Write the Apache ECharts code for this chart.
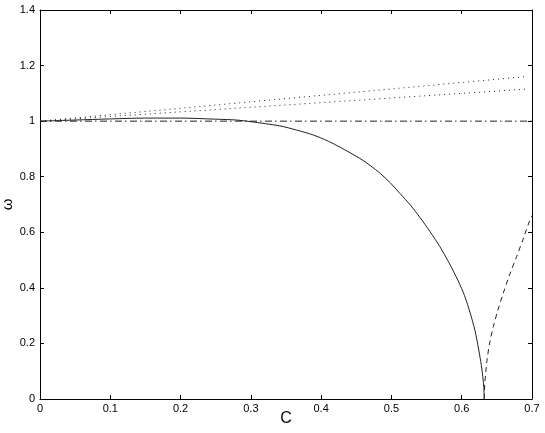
<!DOCTYPE html>
<html>
<head>
<meta charset="utf-8">
<script src="https://cdn.jsdelivr.net/npm/echarts@6/dist/echarts.min.js"></script>
<style>html,body{margin:0;padding:0;background:#fff;}#chart{width:545px;height:433px;}</style>
</head>
<body>
<div id="chart"></div>
<script>
// Solid branch
var solidC = [0, 0.05, 0.1, 0.15, 0.2, 0.25, 0.28, 0.3, 0.341, 0.365, 0.389, 0.41, 0.427, 0.455, 0.47, 0.484, 0.498, 0.512, 0.527, 0.541, 0.555, 0.569, 0.582, 0.595, 0.604, 0.612, 0.619, 0.624, 0.628, 0.630, 0.6315, 0.632];
var solidW = [1.0, 1.004, 1.008, 1.011, 1.011, 1.007, 1.004, 0.998, 0.983, 0.968, 0.950, 0.928, 0.906, 0.866, 0.840, 0.812, 0.779, 0.740, 0.698, 0.652, 0.602, 0.548, 0.490, 0.425, 0.372, 0.310, 0.245, 0.180, 0.120, 0.080, 0.040, 0.0];
// Dashed branch
var dashC = [0.632, 0.6322, 0.6328, 0.634, 0.636, 0.640, 0.645, 0.651, 0.659, 0.668, 0.678, 0.688, 0.697, 0.7];
var dashW = [0.0, 0.025, 0.055, 0.090, 0.140, 0.205, 0.260, 0.316, 0.380, 0.446, 0.512, 0.580, 0.644, 0.660];
// Dash-dot reference line
var refC = [0, 0.7];
var refW = [1, 1];
// Dotted lines
var dotC = [0, 0.69];
var dotUpperW = [1, 1.160];
var dotLowerW = [1, 1.115];
// Axis
var xTicks = {min: 0, max: 0.7, interval: 0.1};
var yTicks = {min: 0, max: 1.4, interval: 0.2};
var xName = 'C';
var yName = 'ω';

function pairs(xs, ys) { return xs.map(function (x, i) { return [x, ys[i]]; }); }

var chart = echarts.init(document.getElementById('chart'), null, {renderer: 'canvas'});
var font = 'Liberation Sans, Arial, Helvetica, sans-serif';
var axisLine = {show: true, onZero: false, lineStyle: {color: '#000', width: 1}};
var tick = {show: true, inside: true, length: 4, lineStyle: {color: '#000', width: 1}};
var lineColor = '#222';
function ser(data, type, smooth) {
  return {
    type: 'line', data: data, showSymbol: false, symbol: 'none', smooth: smooth || false,
    lineStyle: {color: lineColor, width: 1, type: type},
    silent: true, animation: false
  };
}
chart.setOption({
  animation: false,
  backgroundColor: '#fff',
  grid: {left: 40, right: 13, top: 10, bottom: 34, containLabel: false, outerBoundsMode: 'none'},
  xAxis: [
    {type: 'value', min: xTicks.min, max: xTicks.max, interval: xTicks.interval, position: 'bottom',
     name: xName, nameLocation: 'middle', nameGap: 12, nameMoveOverlap: false,
     nameTextStyle: {fontFamily: font, fontSize: 16, color: '#000', verticalAlign: 'top'},
     axisLine: axisLine, axisTick: tick, splitLine: {show: false},
     axisLabel: {color: '#000', fontFamily: font, fontSize: 11, margin: 4}},
    {type: 'value', min: xTicks.min, max: xTicks.max, interval: xTicks.interval, position: 'top',
     axisLine: axisLine, axisTick: tick, splitLine: {show: false}, axisLabel: {show: false}}
  ],
  yAxis: [
    {type: 'value', min: yTicks.min, max: yTicks.max, interval: yTicks.interval, position: 'left',
     name: yName, nameLocation: 'middle', nameGap: 25, nameRotate: 90, nameMoveOverlap: false,
     nameTextStyle: {fontFamily: font, fontSize: 15, color: '#000'},
     axisLine: axisLine, axisTick: tick, splitLine: {show: false},
     axisLabel: {color: '#000', fontFamily: font, fontSize: 11, margin: 5}},
    {type: 'value', min: yTicks.min, max: yTicks.max, interval: yTicks.interval, position: 'right',
     axisLine: axisLine, axisTick: tick, splitLine: {show: false}, axisLabel: {show: false}}
  ],
  series: [
    ser(pairs(refC, refW), [7, 3, 1.5, 3.5]),
    ser(pairs(dotC, dotUpperW), [1, 4]),
    ser(pairs(dotC, dotLowerW), [1, 4]),
    ser(pairs(solidC, solidW), 'solid', 0.3),
    ser(pairs(dashC, dashW), [5, 4], 0.3)
  ]
});
</script>
</body>
</html>
